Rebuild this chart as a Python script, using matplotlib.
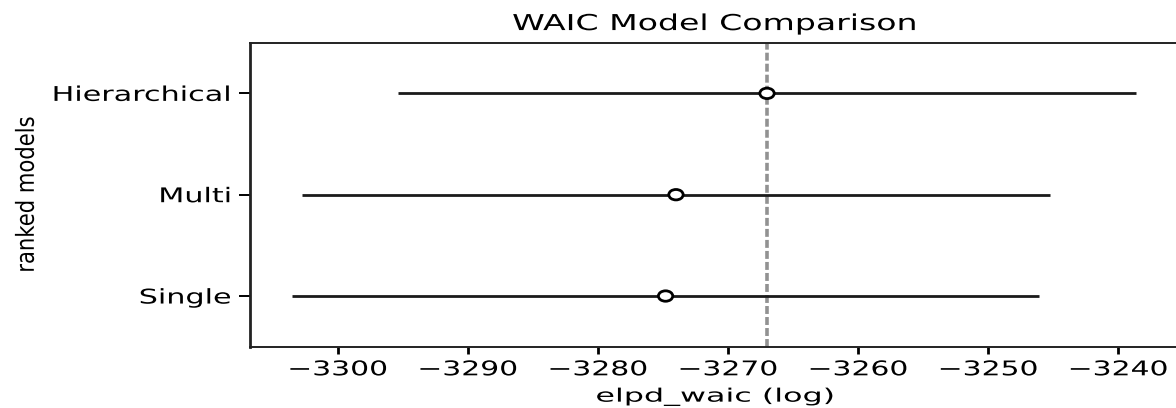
import matplotlib
matplotlib.use("Agg")
import matplotlib.pyplot as plt
from matplotlib.patheffects import AbstractPathEffect
from matplotlib.transforms import Affine2D

# Model comparison results (WAIC)
models = ["Hierarchical", "Multi", "Single"]
elpd_waic = [-3267.0, -3274.0, -3274.8]
elpd_se = [28.4, 28.75, 28.7]
x_ticks = [-3300, -3290, -3280, -3270, -3260, -3250, -3240]

W, H = 1176, 408


class Widen(AbstractPathEffect):
    """Stretch a drawn path horizontally about a point of its extent."""

    def __init__(self, sx, anchor=0.5):
        super().__init__()
        self.sx = sx
        self.anchor = anchor

    def draw_path(self, renderer, gc, tpath, affine, rgbFace=None):
        ext = tpath.get_extents(affine)
        x0 = ext.x0 + self.anchor * (ext.x1 - ext.x0)
        st = Affine2D().translate(-x0, 0).scale(self.sx, 1).translate(x0, 0)
        renderer.draw_path(gc, tpath, affine + st, rgbFace)


plt.rcParams["font.family"] = ["DejaVu Sans"]
fig = plt.figure(figsize=(W / 100, H / 100), dpi=100)
ax = fig.add_axes([250 / W, (H - 346.7) / H, 930 / W, 304 / H])

ypos = [2, 1, 0]
ax.errorbar(elpd_waic, ypos, xerr=elpd_se, fmt="none", ecolor="#1a1a1a",
            elinewidth=2.0, capsize=0, zorder=2)
pts = ax.plot(elpd_waic, ypos, ls="none", marker="o", ms=7.5, mfc="white",
              mec="black", mew=2.0, zorder=3)[0]
pts.set_path_effects([Widen(1.38, 0.5)])

ax.axvline(elpd_waic[0], ls=(0, (2.2, 0.85)), color="#929292", lw=2.6, zorder=1)

ax.set_xlim(-3306.75, -3235.25)
ax.set_ylim(-0.5, 2.5)
ax.set_xticks(x_ticks)
ax.set_xticklabels([f"\u2212{abs(v)}" for v in x_ticks])
ax.set_yticks(ypos)
ax.set_yticklabels(models)

ax.tick_params(axis="x", length=4.8, width=2.0, pad=5, labelsize=14.6)
ax.tick_params(axis="y", length=7.6, width=1.4, pad=6, labelsize=14.6)
for s in ax.spines.values():
    s.set_linewidth(1.4)
    s.set_color("#222222")
ax.spines["left"].set_linewidth(2.0)

ax.set_title("WAIC Model Comparison", fontsize=15.8, pad=9.1)
ax.set_xlabel("elpd_waic (log)", fontsize=13.3, labelpad=6)
ax.set_ylabel("ranked models", fontsize=15.2)
ax.yaxis.set_label_coords((36.4 - 250) / 930, 0.5)

for t in ax.get_xticklabels():
    t.set_path_effects([Widen(1.47, 0.5)])
for t in ax.get_yticklabels():
    t.set_path_effects([Widen(1.49, 1.0)])
ax.title.set_path_effects([Widen(1.51, 0.5)])
ax.xaxis.label.set_path_effects([Widen(1.72, 0.5)])
ax.yaxis.label.set_path_effects([Widen(1.18, 0.5)])

fig.savefig("out.png", dpi=100)
